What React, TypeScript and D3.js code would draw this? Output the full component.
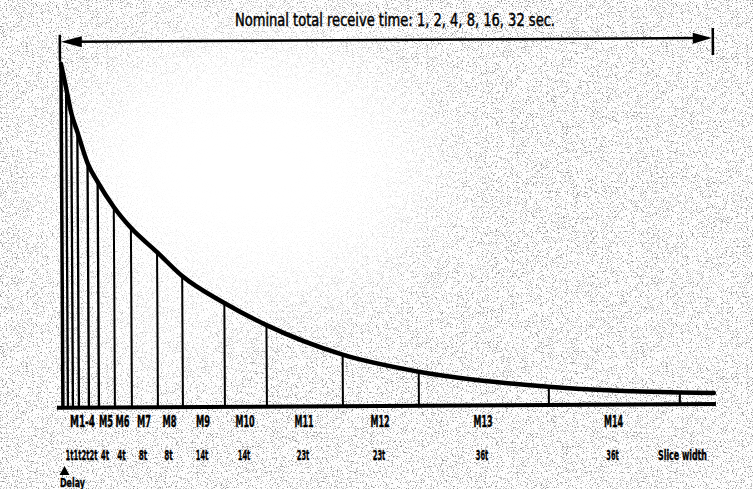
import React from "react";
import * as d3 from "d3";

// ---- data (schematic time units along the receive window) ----
const boundaryTimes = [0, 5, 10, 16, 26, 36, 52, 69, 95, 120, 162, 204, 280, 356, 486, 617, 651];
const signalLevel = [100, 93, 85.7, 80.2, 71.1, 65.6, 58.3, 52.2, 45.1, 38.1, 30.2, 23.7, 15, 9.9, 5.3, 3.4, 3.2];
const sliceLabels = ["M1-4", "M5", "M6", "M7", "M8", "M9", "M10", "M11", "M12", "M13", "M14"];
const sliceStartIndex = [1, 5, 6, 7, 8, 9, 10, 11, 12, 13, 14];
const sliceEndIndex = [5, 6, 7, 8, 9, 10, 11, 12, 13, 14, 15];
const widthLabels = ["1t1t2t2t", "4t", "4t", "8t", "8t", "14t", "14t", "23t", "23t", "36t", "36t"];
const titleText = "Nominal total receive time: 1, 2, 4, 8, 16, 32 sec.";

const W = 753;
const H = 489;
const FONT = "'Liberation Sans Narrow', 'DejaVu Sans Condensed', 'Liberation Sans', Arial, sans-serif";

export default function App() {
  const x = d3.scaleLinear().domain([0, 651]).range([62, 713]);
  const y = d3.scaleLinear().domain([0, 100]).range([406, 62]);
  const pts = boundaryTimes.map((t, i) => [x(t), y(signalLevel[i])] as [number, number]);
  const line = d3.line().curve(d3.curveMonotoneX)(pts) || "";
  const arrowY = 40;
  const x0 = x(0);
  const x1 = x(651);

  const mWidth = (s: string) => (s.length <= 2 ? 14 : s.length === 3 ? 19 : 25);
  const tWidth = (s: string) => (s.length <= 2 ? 8.5 : 12.5);

  return (
    <svg
      width={W}
      height={H}
      style={{ position: "absolute", left: 0, top: 0, background: "#fff" }}
    >
      <defs>
        <filter id="speckle" x="0" y="0" width={W} height={H} filterUnits="userSpaceOnUse">
          <feTurbulence type="fractalNoise" baseFrequency="0.8" numOctaves="2" seed="7" result="n" />
          <feColorMatrix
            in="n"
            type="matrix"
            values="0 0 0 0 0.28  0 0 0 0 0.28  0 0 0 0 0.28  1 0 0 0 0"
          />
          <feComponentTransfer>
            <feFuncA type="discrete" tableValues="0 0 0 0 0 0.05 0.55 1 1 1" />
          </feComponentTransfer>
        </filter>
        <filter id="soft" x="-50%" y="-50%" width="200%" height="200%">
          <feGaussianBlur stdDeviation="45" />
        </filter>
        <mask id="bgmask" maskUnits="userSpaceOnUse" x="0" y="0" width={W} height={H}>
          <rect x={0} y={0} width={W} height={H} fill="#fff" />
          <ellipse cx={250} cy={170} rx={185} ry={135} fill="#000" filter="url(#soft)" />
          <ellipse cx={150} cy={330} rx={60} ry={60} fill="#444" filter="url(#soft)" />
        </mask>
      </defs>

      <rect x={0} y={0} width={W} height={H} fill="#fff" />
      <rect x={0} y={0} width={W} height={H} filter="url(#speckle)" mask="url(#bgmask)" />

      <g transform={`rotate(-0.33, ${W / 2}, ${H / 2})`} stroke="#000" fill="none">
        {/* top span arrow */}
        <line x1={x0 + 8} x2={x1 - 8} y1={arrowY} y2={arrowY} strokeWidth={2.5} />
        <polygon
          points={`${x0},${arrowY} ${x0 + 21},${arrowY - 5.5} ${x0 + 21},${arrowY + 5.5}`}
          fill="#000"
          stroke="none"
        />
        <polygon
          points={`${x1},${arrowY} ${x1 - 19},${arrowY - 5.5} ${x1 - 19},${arrowY + 5.5}`}
          fill="#000"
          stroke="none"
        />
        <line x1={x0 - 1} x2={x0 - 1} y1={arrowY - 7} y2={arrowY + 20} strokeWidth={2.5} />
        <line x1={x1 + 1} x2={x1 + 1} y1={arrowY - 10} y2={arrowY + 17} strokeWidth={2.5} />

        {/* slice boundary lines */}
        {boundaryTimes.slice(0, boundaryTimes.length - 1).map((t, i) => (
          <line
            key={i}
            x1={x(t)}
            x2={x(t)}
            y1={y(0)}
            y2={y(signalLevel[i])}
            strokeWidth={i === 0 ? 3.5 : i < 6 ? 2.3 : 2}
          />
        ))}

        {/* baseline */}
        <line x1={56} x2={715} y1={y(0)} y2={y(0)} strokeWidth={4} />

        {/* decay curve */}
        <path d={line} strokeWidth={4.5} strokeLinecap="round" />
      </g>

      {/* title */}
      <text
        x={395}
        y={26}
        textAnchor="middle"
        fontFamily={FONT}
        fontSize={17}
        textLength={320}
        lengthAdjust="spacingAndGlyphs"
        fill="#000"
        stroke="#000"
        strokeWidth={0.45}
      >
        {titleText}
      </text>

      {/* slice labels */}
      {sliceLabels.map((lab, i) => {
        const cx = (x(boundaryTimes[sliceStartIndex[i]]) + x(boundaryTimes[sliceEndIndex[i]])) / 2;
        return (
          <text
            key={lab}
            x={cx}
            y={427}
            textAnchor="middle"
            fontFamily={FONT}
            fontWeight="bold"
            fontSize={16}
            textLength={mWidth(lab)}
            lengthAdjust="spacingAndGlyphs"
            fill="#000"
            stroke="#000"
            strokeWidth={0.4}
          >
            {lab}
          </text>
        );
      })}

      {/* slice width labels */}
      {widthLabels.map((lab, i) => {
        const cx = (x(boundaryTimes[sliceStartIndex[i]]) + x(boundaryTimes[sliceEndIndex[i]])) / 2;
        return (
          <text
            key={i}
            x={cx - 1}
            y={460}
            textAnchor="middle"
            fontFamily={FONT}
            fontWeight="bold"
            fontSize={14}
            textLength={i === 0 ? 32 : tWidth(lab)}
            lengthAdjust="spacingAndGlyphs"
            fill="#000"
            stroke="#000"
            strokeWidth={0.35}
          >
            {lab}
          </text>
        );
      })}
      <text
        x={x1 - 6}
        y={460}
        textAnchor="end"
        fontFamily={FONT}
        fontWeight="bold"
        fontSize={14}
        textLength={49}
        lengthAdjust="spacingAndGlyphs"
        fill="#000"
        stroke="#000"
        strokeWidth={0.35}
      >
        Slice width
      </text>

      {/* delay marker */}
      <polygon points={`${x(2.5)},466 ${x(2.5) - 5},475 ${x(2.5) + 5},475`} fill="#000" />
      <text
        x={60}
        y={487}
        fontFamily={FONT}
        fontWeight="bold"
        fontSize={13}
        textLength={25}
        lengthAdjust="spacingAndGlyphs"
        fill="#000"
        stroke="#000"
        strokeWidth={0.3}
      >
        Delay
      </text>
    </svg>
  );
}
